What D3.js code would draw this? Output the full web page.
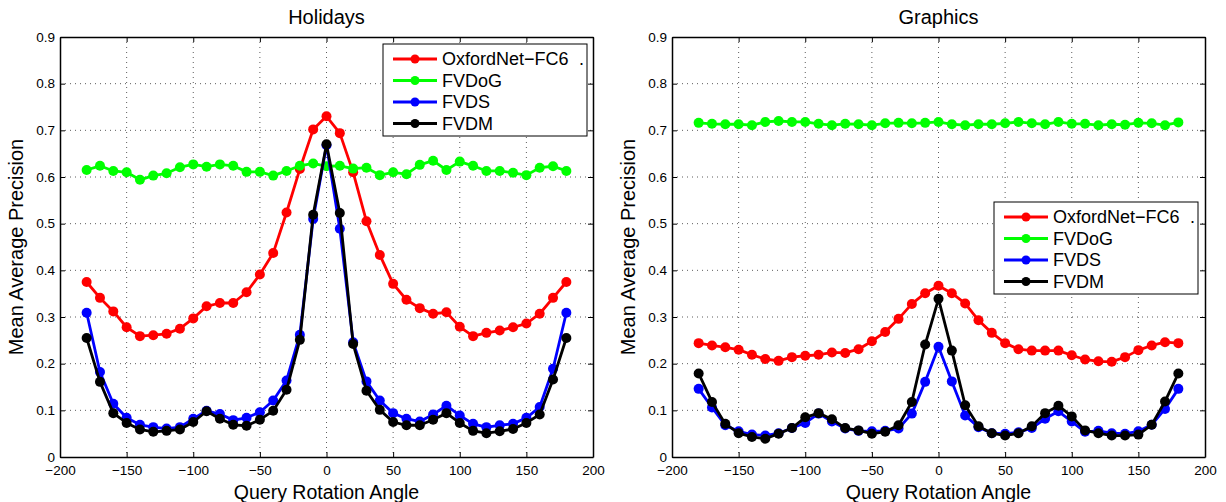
<!DOCTYPE html>
<html>
<head>
<meta charset="utf-8">
<script src="https://cdn.jsdelivr.net/npm/d3@7"></script>
<style>
  body { margin: 0; background: #fff; }
  text { font-family: "Liberation Sans", Arial, Helvetica, sans-serif; fill: #000; }
</style>
</head>
<body>
<div id="chart"></div>
<script>
// query rotation angles (degrees)
const angles = [-180, -170, -160, -150, -140, -130, -120, -110, -100, -90, -80, -70, -60, -50, -40, -30, -20, -10,
  0, 10, 20, 30, 40, 50, 60, 70, 80, 90, 100, 110, 120, 130, 140, 150, 160, 170, 180]

const seriesNames = ['OxfordNet−FC6', 'FVDoG', 'FVDS', 'FVDM']
const seriesColors = ['#ff0000', '#00ff00', '#0000ff', '#000000']

const xTicks = [-200, -150, -100, -50, 0, 50, 100, 150, 200]
const yTicks = [0, 0.1, 0.2, 0.3, 0.4, 0.5, 0.6, 0.7, 0.8, 0.9]

// Holidays
const holidaysOxford = [0.375, 0.341, 0.312, 0.278, 0.259, 0.261, 0.264, 0.275, 0.297, 0.323, 0.330, 0.330, 0.353, 0.391, 0.437, 0.524, 0.617, 0.702,
  0.730, 0.694, 0.610, 0.505, 0.433, 0.371, 0.337, 0.319, 0.307, 0.310, 0.279, 0.259, 0.266, 0.271, 0.278, 0.286, 0.307, 0.341, 0.375]
const holidaysDoG = [0.615, 0.624, 0.613, 0.610, 0.594, 0.603, 0.608, 0.621, 0.627, 0.622, 0.627, 0.624, 0.611, 0.611, 0.603, 0.613, 0.624, 0.629,
  0.623, 0.624, 0.618, 0.620, 0.604, 0.610, 0.606, 0.626, 0.635, 0.615, 0.633, 0.624, 0.613, 0.613, 0.609, 0.604, 0.620, 0.623, 0.613]
const holidaysDS = [0.309, 0.182, 0.114, 0.084, 0.069, 0.064, 0.061, 0.064, 0.082, 0.099, 0.092, 0.079, 0.084, 0.096, 0.121, 0.164, 0.262, 0.510,
  0.668, 0.489, 0.246, 0.162, 0.121, 0.094, 0.082, 0.076, 0.091, 0.110, 0.089, 0.071, 0.064, 0.068, 0.071, 0.084, 0.107, 0.189, 0.309]
const holidaysDM = [0.255, 0.161, 0.094, 0.073, 0.059, 0.054, 0.056, 0.059, 0.075, 0.098, 0.082, 0.069, 0.067, 0.080, 0.099, 0.144, 0.251, 0.519,
  0.670, 0.523, 0.242, 0.142, 0.101, 0.075, 0.068, 0.068, 0.080, 0.094, 0.073, 0.056, 0.051, 0.055, 0.060, 0.073, 0.091, 0.166, 0.255]

// Graphics
const graphicsOxford = [0.244, 0.239, 0.235, 0.230, 0.219, 0.210, 0.206, 0.214, 0.217, 0.219, 0.224, 0.223, 0.231, 0.248, 0.268, 0.296, 0.328, 0.351,
  0.367, 0.351, 0.329, 0.293, 0.266, 0.244, 0.231, 0.228, 0.228, 0.228, 0.218, 0.209, 0.205, 0.204, 0.214, 0.229, 0.239, 0.246, 0.244]
const graphicsDoG = [0.716, 0.714, 0.713, 0.713, 0.711, 0.718, 0.720, 0.718, 0.718, 0.714, 0.711, 0.714, 0.713, 0.711, 0.715, 0.716, 0.715, 0.716,
  0.718, 0.713, 0.711, 0.713, 0.713, 0.715, 0.718, 0.715, 0.713, 0.718, 0.714, 0.714, 0.711, 0.713, 0.712, 0.716, 0.715, 0.711, 0.717]
const graphicsDS = [0.146, 0.106, 0.068, 0.055, 0.048, 0.046, 0.051, 0.062, 0.073, 0.093, 0.076, 0.061, 0.056, 0.055, 0.056, 0.061, 0.093, 0.161,
  0.236, 0.162, 0.089, 0.064, 0.051, 0.050, 0.053, 0.062, 0.082, 0.098, 0.076, 0.054, 0.056, 0.051, 0.050, 0.055, 0.069, 0.103, 0.146]
const graphicsDM = [0.179, 0.118, 0.071, 0.051, 0.043, 0.039, 0.050, 0.062, 0.085, 0.094, 0.081, 0.062, 0.057, 0.050, 0.054, 0.068, 0.118, 0.241,
  0.339, 0.228, 0.111, 0.066, 0.051, 0.046, 0.051, 0.066, 0.094, 0.110, 0.087, 0.057, 0.051, 0.046, 0.046, 0.048, 0.069, 0.119, 0.179]

const panels = [
  { title: 'Holidays', left: 60, series: [holidaysOxford, holidaysDoG, holidaysDS, holidaysDM], legend: { right: 6, top: 7 } },
  { title: 'Graphics', left: 672, series: [graphicsOxford, graphicsDoG, graphicsDS, graphicsDM], legend: { right: 7, top: 165 } }
]

const fullWidth = 1226,
  fullHeight = 502,
  plotWidth = 533,
  plotTop = 37,
  plotHeight = 420,
  tickLen = 5

const svg = d3.select('#chart')
  .append('svg')
  .attr('width', fullWidth)
  .attr('height', fullHeight)

panels.forEach(p => {
  const x = d3.scaleLinear().domain([-200, 200]).range([0, plotWidth])
  const y = d3.scaleLinear().domain([0, 0.9]).range([plotHeight, 0])

  const g = svg.append('g')
    .attr('transform', `translate(${p.left}, ${plotTop})`)

  // dotted grid
  g.append('g')
    .selectAll('line')
    .data(xTicks.slice(1, -1))
    .enter()
    .append('line')
      .attr('x1', d => x(d)).attr('x2', d => x(d))
      .attr('y1', 0).attr('y2', plotHeight)
      .attr('stroke', '#333').attr('stroke-width', 0.8)
      .attr('stroke-dasharray', '1,4')

  g.append('g')
    .selectAll('line')
    .data(yTicks.slice(1, -1))
    .enter()
    .append('line')
      .attr('x1', 0).attr('x2', plotWidth)
      .attr('y1', d => y(d)).attr('y2', d => y(d))
      .attr('stroke', '#333').attr('stroke-width', 0.8)
      .attr('stroke-dasharray', '1,4')

  // axes (inward ticks on all four sides, MATLAB-like box)
  const xFmt = d => d3.format('d')(d)
  const yFmt = d => d === 0 ? '0' : d3.format('.1f')(d)

  const bottom = g.append('g')
    .attr('transform', `translate(0, ${plotHeight})`)
    .call(d3.axisBottom(x).tickValues(xTicks).tickFormat(xFmt).tickSizeInner(-tickLen).tickSizeOuter(0).tickPadding(8))
  const top = g.append('g')
    .call(d3.axisTop(x).tickValues(xTicks).tickFormat('').tickSizeInner(-tickLen).tickSizeOuter(0))
  const leftAx = g.append('g')
    .call(d3.axisLeft(y).tickValues(yTicks).tickFormat(yFmt).tickSizeInner(-tickLen).tickSizeOuter(0).tickPadding(5))
  const rightAx = g.append('g')
    .attr('transform', `translate(${plotWidth}, 0)`)
    .call(d3.axisRight(y).tickValues(yTicks).tickFormat('').tickSizeInner(-tickLen).tickSizeOuter(0))

  ;[bottom, top, leftAx, rightAx].forEach(a => {
    a.select('.domain').attr('stroke', '#000').attr('stroke-width', 1.5)
    a.selectAll('.tick line').attr('stroke', '#000').attr('stroke-width', 1)
    a.selectAll('text').style('font-size', '13.5px').attr('fill', '#000')
      .style('font-family', '"Liberation Sans", Arial, sans-serif')
  })

  // series lines + markers
  const line = d3.line()
    .x((d, i) => x(angles[i]))
    .y(d => y(d))

  p.series.forEach((vals, si) => {
    const sg = g.append('g')
    sg.append('path')
      .datum(vals)
      .attr('fill', 'none')
      .attr('stroke', seriesColors[si])
      .attr('stroke-width', 2.8)
      .attr('stroke-linejoin', 'round')
      .attr('d', line)
    sg.selectAll('circle')
      .data(vals)
      .enter()
      .append('circle')
        .attr('cx', (d, i) => x(angles[i]))
        .attr('cy', d => y(d))
        .attr('r', 5)
        .attr('fill', seriesColors[si])
  })

  // title + axis labels
  g.append('text')
    .attr('x', plotWidth / 2)
    .attr('y', -13)
    .attr('text-anchor', 'middle')
    .style('font-size', '20px')
    .text(p.title)

  g.append('text')
    .attr('x', plotWidth / 2)
    .attr('y', plotHeight + 42)
    .attr('text-anchor', 'middle')
    .style('font-size', '19.5px')
    .text('Query Rotation Angle')

  g.append('text')
    .attr('transform', `translate(-37, ${plotHeight / 2}) rotate(-90)`)
    .attr('text-anchor', 'middle')
    .style('font-size', '20px')
    .text('Mean Average Precision')

  // legend
  const lw = 204, lh = 92, rowH = 21.5
  const lg = g.append('g')
    .attr('transform', `translate(${plotWidth - p.legend.right - lw}, ${p.legend.top})`)
  lg.append('rect')
    .attr('width', lw).attr('height', lh)
    .attr('fill', '#fff').attr('stroke', '#000').attr('stroke-width', 1)

  const item = lg.selectAll('.legend-item')
    .data(seriesNames)
    .enter()
    .append('g')
    .attr('class', 'legend-item')
    .attr('transform', (d, i) => `translate(0, ${15 + i * rowH})`)
  item.append('line')
    .attr('x1', 10).attr('x2', 54)
    .attr('stroke', (d, i) => seriesColors[i])
    .attr('stroke-width', 2.8)
  item.append('circle')
    .attr('cx', 32).attr('r', 4.5)
    .attr('fill', (d, i) => seriesColors[i])
  item.append('text')
    .attr('x', 59)
    .attr('dy', '0.35em')
    .style('font-size', '18px')
    .text(d => d)
  lg.append('text')
    .attr('x', 196)
    .attr('y', 15)
    .attr('dy', '0.35em')
    .style('font-size', '18px')
    .text('.')
})
</script>
</body>
</html>
